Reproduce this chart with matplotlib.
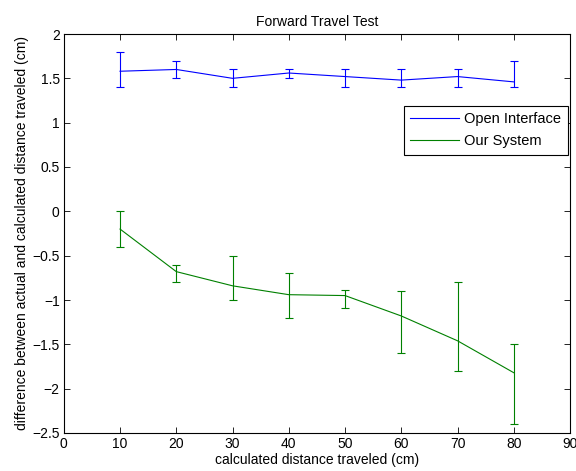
import matplotlib
matplotlib.use("Agg")
import matplotlib.pyplot as plt
from matplotlib.lines import Line2D
import numpy as np

plt.rcParams['font.family'] = ['Liberation Sans', 'DejaVu Sans']

x = [10, 20, 30, 40, 50, 60, 70, 80]

open_mean = [1.58, 1.60, 1.50, 1.56, 1.52, 1.48, 1.52, 1.46]
open_upper = [1.80, 1.70, 1.60, 1.60, 1.60, 1.60, 1.60, 1.70]
open_lower = [1.40, 1.50, 1.40, 1.50, 1.40, 1.40, 1.40, 1.40]

ours_mean = [-0.20, -0.68, -0.84, -0.94, -0.95, -1.18, -1.46, -1.82]
ours_upper = [0.00, -0.60, -0.50, -0.70, -0.89, -0.90, -0.80, -1.50]
ours_lower = [-0.40, -0.80, -1.00, -1.20, -1.09, -1.60, -1.80, -2.40]

xticks = [0, 10, 20, 30, 40, 50, 60, 70, 80, 90]
yticks = [-2.5, -2, -1.5, -1, -0.5, 0, 0.5, 1, 1.5, 2]

blue = (0, 0, 1)
green = (0, 0.5, 0)

fig = plt.figure(figsize=(5.76, 4.71), dpi=100)
ax = fig.add_axes([63.8/576, 38/471, (570-63.8)/576, (433-34)/471])

def err(mean, lo, hi):
    m = np.array(mean); return [m - np.array(lo), np.array(hi) - m]

ax.errorbar(x, open_mean, yerr=err(open_mean, open_lower, open_upper),
            color=blue, lw=0.8, elinewidth=0.8, capsize=3, capthick=0.8)
ax.errorbar(x, ours_mean, yerr=err(ours_mean, ours_lower, ours_upper),
            color=green, lw=0.8, elinewidth=0.8, capsize=3, capthick=0.8)

ax.set_xlim(0, 90)
ax.set_ylim(-2.5, 2)
ax.set_xticks(xticks)
ax.set_yticks(yticks)
ax.set_yticklabels([f"{t:g}".replace('-', '\u2212') for t in yticks])
ax.tick_params(direction='in', top=True, right=True, length=4, width=0.6,
               labelsize=10, pad=3)
for s in ax.spines.values():
    s.set_linewidth(0.8)

ax.set_title('Forward Travel Test', fontsize=10, pad=6)
ax.set_xlabel('calculated distance traveled (cm)', fontsize=10, labelpad=1)
ax.set_ylabel('difference between actual and calculated distance traveled (cm)',
              fontsize=10, labelpad=2)

handles = [Line2D([], [], color=blue, lw=0.8), Line2D([], [], color=green, lw=0.8)]
leg = ax.legend(handles, ['Open Interface', 'Our System'],
                loc='upper right', bbox_to_anchor=(0.996, 0.82), fontsize=10.5,
                fancybox=False, framealpha=1, edgecolor='black',
                handlelength=3.3, handletextpad=0.4, borderpad=0.45,
                labelspacing=0.55, borderaxespad=0)
leg.get_frame().set_linewidth(0.8)

fig.savefig('out.png', dpi=100)
